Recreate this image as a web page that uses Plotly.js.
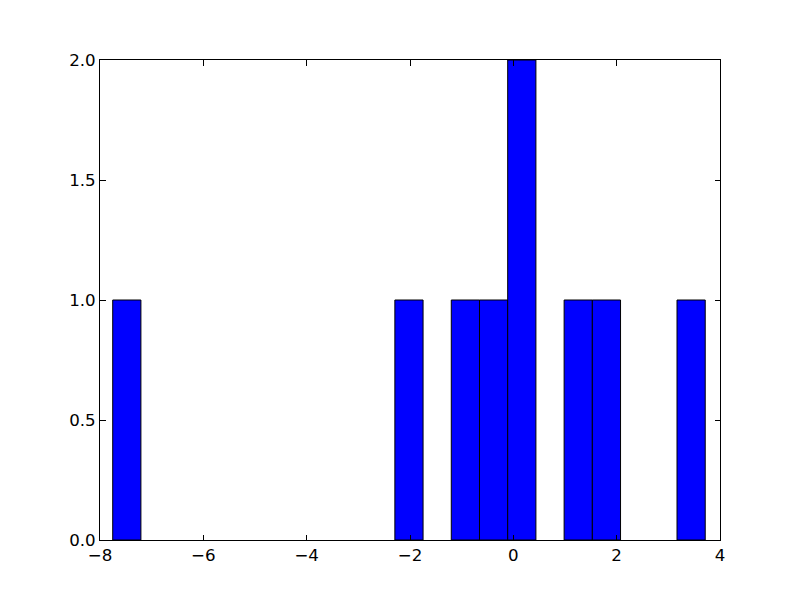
<!DOCTYPE html>
<html>
<head>
<meta charset="utf-8">
<script src="https://cdn.plot.ly/plotly-3.0.1.min.js"></script>
<style>html,body{margin:0;padding:0;background:#fff;}#chart{width:800px;height:600px;}</style>
</head>
<body>
<div id="chart"></div>
<script>
// Histogram bins that hold values (bin centers) and their counts
var binCenters = [-7.481, -2.020, -0.928, -0.382, 0.164, 1.256, 1.802, 3.441];
var counts = [1, 1, 1, 1, 2, 1, 1, 1];
var binWidth = 0.5461;
var xTicks = [-8, -6, -4, -2, 0, 2, 4];
var xTickLabels = ['\u22128', '\u22126', '\u22124', '\u22122', '0', '2', '4'];
var yTicks = [0, 0.5, 1.0, 1.5, 2.0];
var yTickLabels = ['0.0', '0.5', '1.0', '1.5', '2.0'];

var trace = {
  type: 'bar',
  x: binCenters,
  y: counts,
  width: binCenters.map(function(){return binWidth;}),
  marker: {color: '#0000ff', line: {color: '#000000', width: 1}},
  hoverinfo: 'x+y'
};

var axisCommon = {
  showline: true, linecolor: '#000', linewidth: 1, mirror: 'ticks',
  ticks: 'inside', ticklen: 5.5, tickwidth: 1, tickcolor: '#000',
  showgrid: false, zeroline: false,
  tickfont: {family: 'DejaVu Sans', size: 16.67, color: '#000'}
};

var layout = {
  width: 800, height: 600,
  margin: {l: 100, r: 80, t: 60, b: 60, pad: 0},
  paper_bgcolor: '#fff', plot_bgcolor: '#fff',
  showlegend: false,
  bargap: 0,
  xaxis: Object.assign({}, axisCommon, {range: [-8, 4], tickmode: 'array', tickvals: xTicks, ticktext: xTickLabels}),
  yaxis: Object.assign({}, axisCommon, {range: [0, 2], tickmode: 'array', tickvals: yTicks, ticktext: yTickLabels})
};

Plotly.newPlot('chart', [trace], layout, {displayModeBar: false, staticPlot: true});
</script>
</body>
</html>
